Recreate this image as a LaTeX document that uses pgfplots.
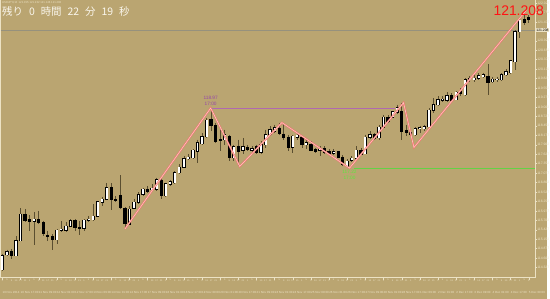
\documentclass[border=0pt]{standalone}
\usepackage{fontspec}
\setmainfont{Liberation Sans}
\newfontfamily\cjk{Noto Sans CJK JP}
\usepackage{pgfplots}
\usepackage{pgfplotstable}
\pgfplotsset{compat=1.18}
\definecolor{bg}{RGB}{186,165,113}
\definecolor{cream}{RGB}{236,226,196}
\definecolor{wick}{RGB}{90,78,48}
\definecolor{zzred}{RGB}{245,115,115}
\definecolor{zzin}{RGB}{255,210,200}
\definecolor{hiline}{RGB}{175,105,175}
\definecolor{hitext}{RGB}{150,70,170}
\definecolor{loline}{RGB}{100,210,70}
\definecolor{lotext}{RGB}{90,235,60}
\definecolor{bidline}{RGB}{150,145,125}

\pgfplotstableread{
x o h l c
0 114.270 114.724 114.232 114.675
1 114.695 114.849 114.675 114.791
3 114.675 115.245 114.658 115.109
4 115.109 116.056 115.101 115.882
7 115.671 115.940 114.985 115.737
12 115.130 115.448 115.014 115.419
13 115.410 115.688 115.352 115.448
14 115.419 115.642 115.370 115.526
15 115.526 115.737 115.497 115.688
18 115.477 115.737 115.399 115.708
19 115.708 115.833 115.642 115.737
20 115.717 116.171 115.688 115.815
21 115.815 116.267 115.787 116.238
22 116.221 116.394 116.122 116.308
23 116.308 116.779 116.287 116.655
28 115.593 116.122 115.564 116.027
29 116.056 116.316 116.027 116.221
30 116.221 116.519 116.171 116.441
31 116.461 116.655 116.412 116.606
33 116.585 116.750 116.556 116.635
34 116.606 116.944 116.556 116.875
36 116.412 116.800 116.394 116.771
37 116.750 116.875 116.701 116.817
38 116.800 117.135 116.750 117.089
39 117.089 117.329 117.040 117.251
40 117.251 117.570 117.222 117.494
41 117.494 117.619 117.454 117.540
42 117.523 117.763 117.474 117.734
43 117.714 118.053 117.378 117.957
44 117.937 118.247 117.908 118.131
45 118.131 118.681 118.102 118.611
49 118.053 118.342 117.908 118.198
51 117.523 117.908 117.425 117.842
53 117.743 118.102 117.619 117.842
55 117.743 117.859 117.668 117.784
57 117.685 118.004 117.619 117.908
58 117.908 118.342 117.813 118.198
59 118.198 118.438 118.148 118.342
60 118.293 118.487 118.247 118.392
64 117.830 118.198 117.668 118.148
65 118.119 118.247 118.053 118.177
67 117.908 118.053 117.763 117.957
70 117.743 117.859 117.570 117.763
73 117.648 117.763 117.598 117.697
76 117.280 117.474 117.220 117.425
77 117.445 117.570 117.407 117.503
78 117.503 117.859 117.474 117.734
80 117.639 118.198 117.619 118.119
81 118.119 118.293 118.082 118.198
83 118.102 118.487 118.053 118.409
84 118.409 118.776 118.392 118.698
86 118.698 118.892 118.681 118.855
87 118.843 119.066 118.805 118.970
91 118.198 118.420 118.169 118.371
92 118.363 118.458 118.247 118.392
93 118.363 118.487 118.293 118.420
94 118.420 118.970 118.392 118.901
95 118.901 119.260 118.826 119.066
96 119.066 119.306 119.037 119.211
97 119.190 119.306 119.132 119.231
98 119.190 119.422 119.132 119.326
100 119.211 119.451 119.190 119.422
102 119.355 119.839 119.306 119.789
103 119.789 119.905 119.740 119.839
104 119.789 119.934 119.740 119.839
105 119.839 119.983 119.789 119.905
106 119.885 119.992 119.847 119.934
108 119.740 119.885 119.711 119.810
109 119.789 119.885 119.740 119.810
110 119.789 119.983 119.769 119.934
111 119.934 120.099 119.905 120.030
112 120.001 120.368 119.963 120.339
113 120.319 121.237 120.079 121.187
114 121.187 121.575 120.996 121.526
}\bull

\pgfplotstableread{
x o h l c
2 114.791 114.869 114.580 114.675
5 115.882 116.027 115.642 115.688
6 115.717 115.853 115.399 115.659
8 115.737 115.978 115.593 115.642
9 115.642 115.688 115.254 115.303
10 115.274 115.399 115.109 115.225
11 115.225 115.303 114.849 115.130
16 115.688 115.737 115.399 115.497
17 115.497 115.688 115.274 115.457
24 116.655 116.779 116.006 116.296
25 116.308 116.412 116.238 116.267
26 116.432 117.011 116.027 116.056
27 116.047 116.076 115.448 115.593
32 116.606 116.701 116.510 116.548
35 116.875 116.944 116.316 116.412
46 118.632 118.970 118.293 118.458
47 118.458 118.536 117.957 118.004
48 118.053 118.342 117.714 118.024
50 118.148 118.198 117.425 117.523
52 117.842 118.053 117.271 117.714
54 117.813 117.908 117.714 117.763
56 117.859 117.908 117.619 117.685
61 118.392 118.545 118.198 118.218
62 118.218 118.507 118.053 118.102
63 118.102 118.198 117.714 117.813
66 118.119 118.148 117.813 117.908
68 117.908 118.004 117.714 117.734
69 117.763 117.813 117.668 117.714
71 117.784 117.859 117.619 117.685
72 117.714 117.763 117.590 117.648
74 117.697 117.714 117.503 117.523
75 117.540 117.590 117.280 117.329
79 117.734 117.813 117.598 117.619
82 118.198 118.247 118.053 118.082
85 118.698 118.756 118.536 118.583
88 118.872 119.124 118.053 118.293
89 118.322 118.487 118.148 118.264
90 118.264 118.342 118.148 118.198
99 119.326 119.405 119.161 119.190
101 119.451 119.549 119.306 119.384
107 119.905 120.253 119.355 119.711
115 121.546 121.720 121.381 121.448
116 121.604 121.671 121.431 121.546
}\bear

\pgfplotsset{candle/.style={only marks, mark options={draw opacity=0, fill opacity=0}, mark size=0pt,
  error bars/y dir=minus, error bars/y explicit, error bars/error mark=none,
  error bars/error bar style={#1}}}

\begin{document}
\begin{tikzpicture}[x=1pt,y=1pt]
\fill[bg] (0,0) rectangle (550,300);
\draw[cream, line width=0.6pt] (0.5,21) -- (0.5,300);
\begin{axis}[
  at={(1pt,21pt)}, anchor=south west,
  scale only axis, width=537pt, height=279pt,
  xmin=-0.31, xmax=117.4, ymin=114.029, ymax=122.105,
  axis x line=bottom, axis y line=right,
  axis line style={draw=cream, line width=0.6pt, -},
  tick align=outside, major tick length=2pt,
  tick style={draw=cream, line width=0.4pt},
  ytick={114.327,114.602,...,122.1},
  /pgf/number format/.cd, fixed, fixed zerofill, precision=3, assume math mode=true,
  /pgfplots/.cd,
  y tick label style={font=\fontsize{3.4}{4}\selectfont, text=cream, anchor=west, xshift=-0.5pt, inner sep=0.5pt},
  xtick={0,4,...,116},
  xticklabels={10 Nov 2014,10 Nov 17:00,11 Nov 09:00,12 Nov 01:00,12 Nov 17:00,13 Nov 09:00,14 Nov 01:00,14 Nov 17:00,17 Nov 09:00,18 Nov 01:00,18 Nov 17:00,19 Nov 09:00,20 Nov 01:00,20 Nov 17:00,21 Nov 09:00,24 Nov 01:00,24 Nov 17:00,25 Nov 09:00,26 Nov 01:00,26 Nov 17:00,27 Nov 09:00,28 Nov 01:00,28 Nov 17:00,1 Dec 09:00,2 Dec 01:00,2 Dec 17:00,3 Dec 09:00,4 Dec 01:00,4 Dec 17:00,5 Dec 09:00},
  x tick label style={font=\fontsize{3}{3.5}\selectfont, text=cream, anchor=north west, yshift=-11pt, xshift=0pt, inner sep=0pt},
  clip mode=individual,
]
% bid line
\addplot[bidline, line width=0.8pt] coordinates {(-0.31,121.237) (117.4,121.237)};
% high / low levels
\addplot[hiline, line width=0.7pt] coordinates {(46.3,118.97) (86.6,118.97)};
\addplot[loline, line width=0.6pt] coordinates {(77.4,117.22) (117.4,117.22)};
% wicks
\addplot[candle={line width=0.7pt, wick}]
  table[x=x, y=h, y error minus expr=\thisrow{h}-\thisrow{l}] {\bull};
\addplot[candle={line width=0.7pt, wick}]
  table[x=x, y=h, y error minus expr=\thisrow{h}-\thisrow{l}] {\bear};
% bull bodies
\addplot[candle={line width=3.3pt, black}]
  table[x=x, y expr=\thisrow{c}+0.015, y error minus expr=\thisrow{c}-\thisrow{o}+0.03] {\bull};
\addplot[candle={line width=1.9pt, white}]
  table[x=x, y=c, y error minus expr=\thisrow{c}-\thisrow{o}] {\bull};
% bear bodies
\addplot[candle={line width=3.3pt, black}]
  table[x=x, y expr=\thisrow{o}+0.01, y error minus expr=\thisrow{o}-\thisrow{c}+0.02] {\bear};
% zigzag
\addplot[zzred, line width=1.7pt] coordinates {(27,115.448) (45.9,118.97) (52.3,117.271) (61.6,118.545) (76.5,117.22) (88.4,119.124) (90.7,117.821) (115.45,121.816)};
\addplot[zzin, line width=0.5pt] coordinates {(27,115.448) (45.9,118.97) (52.3,117.271) (61.6,118.545) (76.5,117.22) (88.4,119.124) (90.7,117.821) (115.45,121.816)};
% labels
\node[text=hitext, font=\fontsize{4.8}{5}\selectfont, inner sep=0pt] at (axis cs:45.9,119.28) {118.97};
\node[text=hitext, font=\fontsize{4.8}{5}\selectfont, inner sep=0pt] at (axis cs:45.9,119.10) {17:00};
\node[text=lotext, font=\fontsize{4.8}{5}\selectfont, inner sep=0pt] at (axis cs:76.5,117.10) {117.22};
\node[text=lotext, font=\fontsize{4.8}{5}\selectfont, inner sep=0pt] at (axis cs:76.5,116.93) {17:00};
\end{axis}
% hour row under the chart
\foreach \i in {0,...,116} {
  \pgfmathtruncatemacro\hh{mod(\i,6)*4+1}
  \node[text=cream, font=\fontsize{2.4}{3}\selectfont, inner sep=0pt] at ({2.41+\i*4.562},18.6) {\hh};
}
% texts outside the data
\node[anchor=west, text={rgb,255:red,250;green,246;blue,236}, font=\cjk\fontsize{10.5}{11}\selectfont, inner sep=0pt] at (2,288.5) {残り\hspace{6pt}0\hspace{6pt}時間\hspace{6pt}22\hspace{6pt}分\hspace{6pt}19\hspace{6pt}秒};
\node[anchor=west, text=cream, font=\fontsize{2.8}{3}\selectfont, inner sep=0pt] at (2,298) {USDJPY,H4\ \ 121.155 121.232 121.146 121.208};
\node[anchor=east, text={rgb,255:red,255;green,20;blue,20}, font=\fontsize{14}{16}\selectfont, inner sep=0pt] at (547,290) {121.208};
\node[fill=cream, text=black, font=\fontsize{3.4}{4}\selectfont, inner sep=0.6pt, anchor=west] at (538.5,270) {121.208};
\end{tikzpicture}
\end{document}
